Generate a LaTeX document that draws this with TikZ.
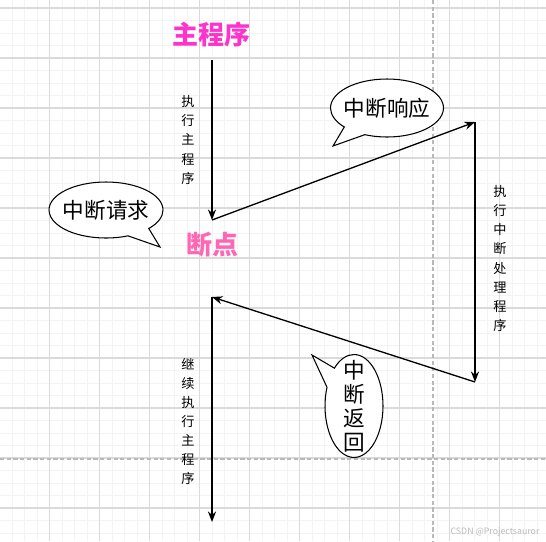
\documentclass[tikz,border=0pt]{standalone}
\usepackage{fontspec}
\setmainfont{Noto Sans CJK SC}
\usepackage{xcolor}
\usetikzlibrary{arrows.meta,shapes.callouts,positioning}
\definecolor{titlePink}{RGB}{255,51,204}
\definecolor{bpPink}{RGB}{255,102,179}
\definecolor{gridMinor}{RGB}{243,243,243}
\definecolor{gridMajor}{RGB}{218,218,218}
\definecolor{pageGray}{RGB}{185,185,185}
\tikzset{
  ttl/.style={font=\fontsize{14.8}{16}\selectfont\bfseries,inner sep=0pt},
  vlbl/.style={font=\fontsize{7.5}{10.9}\selectfont,align=center,inner sep=0pt},
  bubble/.style={ellipse callout,draw,fill=white,line width=0.6pt,
                 callout pointer arc=26,inner sep=0pt},
  bubtxt/.style={font=\fontsize{12.3}{13.6}\selectfont,align=center,inner sep=0pt},
  arr/.style={-{Stealth[length=6pt,width=4.6pt]},line width=0.75pt},
  minorln/.style={gridMinor,line width=0.5pt},
  majorln/.style={gridMajor,line width=0.6pt},
  pagebrk/.style={pageGray,line width=0.6pt,dash pattern=on 2.4pt off 1.4pt},
}

\begin{document}
\begin{tikzpicture}[x=0.02cm,y=-0.02cm]
  \useasboundingbox (0,0) rectangle (546,541);
  % background grid
  \fill[white] (0,0) rectangle (546,541);
  \foreach \k in {0,...,44}
    \draw[minorln] ({\k*12.5-0.5},0) -- ({\k*12.5-0.5},541);
  \foreach \k in {0,...,43}
    \draw[minorln] (0,{\k*12.5+8}) -- (546,{\k*12.5+8});
  \foreach \k in {1,...,10}
    \draw[majorln] ({\k*50-0.5},0) -- ({\k*50-0.5},541);
  \foreach \k in {0,...,10}
    \draw[majorln] (0,{\k*50+8}) -- (546,{\k*50+8});
  \draw[pagebrk] (433,0) -- (433,541);
  \draw[pagebrk] (0,459) -- (546,459);

  % titles
  \node[ttl,text=titlePink] (main) at (211,35) {主程序};
  \node[ttl,text=bpPink]    (bp)   at (212,245) {断点};

  % path of execution
  \coordinate (p0) at (212,60);
  \coordinate (p1) at (212,220);
  \coordinate (p2) at (475,122);
  \coordinate (p3) at (475,382);
  \coordinate (p4) at (212,297);
  \coordinate (p5) at (212,522);
  \foreach \a/\b in {p0/p1,p1/p2,p2/p3,p3/p4,p4/p5}
    \draw[arr] (\a) -- (\b);

  % side labels
  \node[vlbl] (run)  at (188,140) {执\\行\\主\\程\\序};
  \node[vlbl] (isr)  at (500,258.5) {执\\行\\中\\断\\处\\理\\程\\序};
  \node[vlbl] (cont) at (188,421.5) {继\\续\\执\\行\\主\\程\\序};

  % callouts
  \coordinate (reqtip)  at (160,247);
  \coordinate (resptip) at (333,146);
  \coordinate (rettip)  at (312,355);
  \node[bubble,minimum width=2.28cm,minimum height=1.12cm,
        callout absolute pointer={(reqtip)},
        label={[bubtxt]center:中断请求}] (req) at (106,210) {};
  \node[bubble,minimum width=2.26cm,minimum height=1.16cm,
        callout absolute pointer={(resptip)},
        label={[bubtxt]center:中断响应}] (resp) at (387,108) {};
  \node[bubble,minimum width=1.16cm,minimum height=2.06cm,
        callout absolute pointer={(rettip)},
        label={[bubtxt]center:{中\\断\\返\\回}}] (ret) at (354,406) {};

  % watermark
  \node[font=\fontsize{5}{6}\selectfont,text=pageGray,inner sep=0pt] (wm) at (495,532) {CSDN @Projectsauror};
\end{tikzpicture}
\end{document}
